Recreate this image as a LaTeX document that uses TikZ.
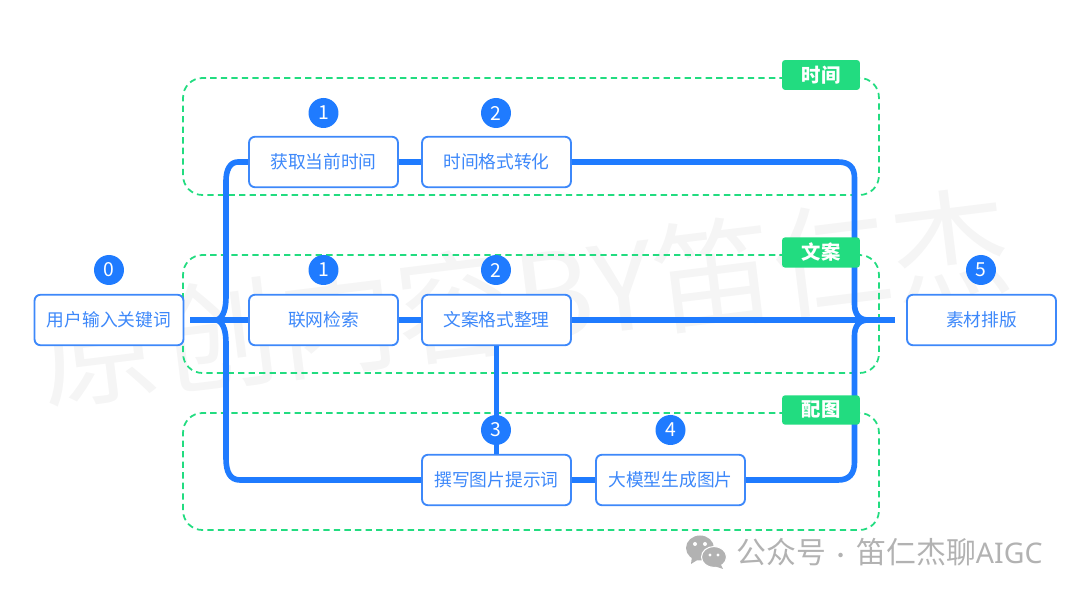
\documentclass[tikz,border=0pt]{standalone}
\usepackage{fontspec}
\setmainfont{Noto Sans CJK SC}
\newfontfamily\latinsign{Noto Sans}
\usetikzlibrary{calc, shapes, backgrounds}
\definecolor{flowblue}{HTML}{1F7BFF}
\definecolor{labelblue}{HTML}{3D88FA}
\definecolor{groupgreen}{HTML}{22DC80}
\definecolor{markgray}{HTML}{F5F5F5}
\definecolor{signgray}{HTML}{B2B2B2}
\tikzset{
	stepbox/.style={rectangle, draw=labelblue, fill=white, line width=1.05pt, rounded corners=3.4pt, minimum width=2.98cm, minimum height=1.01cm, text=labelblue, font=\fontsize{10.1}{12}\selectfont},
	groupbox/.style={rectangle, draw=groupgreen, dash pattern=on 3.6pt off 2.4pt, line width=1pt, rounded corners=11pt, minimum width=13.92cm},
	grouptag/.style={rectangle, fill=groupgreen, rounded corners=1.8pt, minimum width=1.56cm, minimum height=0.58cm, text=white, font=\fontsize{11}{13}\selectfont\bfseries},
	badge/.style={circle, fill=flowblue, minimum size=0.6cm, inner sep=0pt, text=white, font=\fontsize{11}{13}\selectfont},
	flowline/.style={draw=flowblue, line width=3.2pt},
}
\begin{document}
\begin{tikzpicture}[x=0.02cm, y=-0.02cm]
		\useasboundingbox (0,0) rectangle (1080,594);
		% watermark
		\node at (525,297) [rotate=7, text=markgray, font=\fontsize{68}{80}\selectfont] (mark) {原创内容BY笛仁杰};
		% groups
		\node at (531,136.5) [groupbox, minimum height=2.34cm] (gtime) {};
		\node at (531,314) [groupbox, minimum height=2.36cm] (gcopy) {};
		\node at (531,471.5) [groupbox, minimum height=2.34cm] (gimage) {};
		% steps
		\node at (109,320) [stepbox] (input) {用户输入关键词};
		\node at (323.5,162) [stepbox] (fetch) {获取当前时间};
		\node at (496.5,162) [stepbox] (format) {时间格式转化};
		\node at (323.5,320) [stepbox] (search) {联网检索};
		\node at (496.5,320) [stepbox] (tidy) {文案格式整理};
		\node at (496.5,480) [stepbox] (prompt) {撰写图片提示词};
		\node at (670.5,480) [stepbox] (model) {大模型生成图片};
		\node at (981.5,320) [stepbox] (layout) {素材排版};
		% connectors
		\coordinate (instub) at (190,320);
		\coordinate (outstub) at (895,320);
		\coordinate (jleft) at (217,320);
		\coordinate (jright) at (868,320);
		\draw[flowline] (instub) -- (search);
		\draw[flowline] (search) -- (tidy);
		\draw[flowline] (tidy) -- (outstub);
		\draw[flowline] (fetch) -- (format);
		\draw[flowline] (prompt) -- (model);
		\draw[flowline, line width=2.8pt] (tidy) -- (prompt);
		\draw[flowline] (fetch.west) -- (238,162) .. controls (230,162) and (226,170) .. (226,181) -- (226,296) .. controls (226,308) and (224,317) .. (jleft);
		\draw[flowline] (jleft) .. controls (224,323) and (226,332) .. (226,344) -- (226,458) .. controls (226,472) and (230,480) .. (240,480) -- (prompt.west);
		\draw[flowline] (format.east) -- (838,162) .. controls (849,162) and (854.5,167) .. (854.5,178) -- (854.5,304) .. controls (854.5,314) and (859,320) .. (jright);
		\draw[flowline] (jright) .. controls (859,320) and (854.5,326) .. (854.5,336) -- (854.5,462) .. controls (854.5,474) and (849,480) .. (838,480) -- (model.east);
		% order numbers
		\node at (109,270) [badge] (n0) {0};
		\node at (323.5,113) [badge] (n1a) {1};
		\node at (496,113) [badge] (n2a) {2};
		\node at (323.5,270) [badge] (n1b) {1};
		\node at (496,270) [badge] (n2b) {2};
		\node at (496,430) [badge] (n3) {3};
		\node at (670.5,430) [badge] (n4) {4};
		\node at (981,270) [badge] (n5) {5};
		% tags
		\node at (821,75) [grouptag] (ttime) {时间};
		\node at (821,252.5) [grouptag] (tcopy) {文案};
		\node at (821,410) [grouptag] (timage) {配图};
		% signature
		\fill[signgray] (700,548) ellipse (14 and 12.5);
		\fill[signgray] (692,556) -- (691,564) -- (699,559) -- cycle;
		\fill[signgray, draw=white, line width=0.6pt] (714,557) ellipse (12.5 and 10.5);
		\fill[signgray] (720,563) -- (723,569) -- (714,566) -- cycle;
		\fill[white] (695,544) circle (2) (705,544) circle (2) (710,555) circle (1.7) (718,555) circle (1.7);
		\node at (736,552) [anchor=west, inner sep=0pt, text=signgray, font=\fontsize{17}{20}\selectfont] (sign) {公众号{\fontsize{12}{14}\selectfont\ ·\ }笛仁杰聊{\latinsign\fontsize{16.2}{20}\selectfont AIGC}};
		\end{tikzpicture}
\end{document}
